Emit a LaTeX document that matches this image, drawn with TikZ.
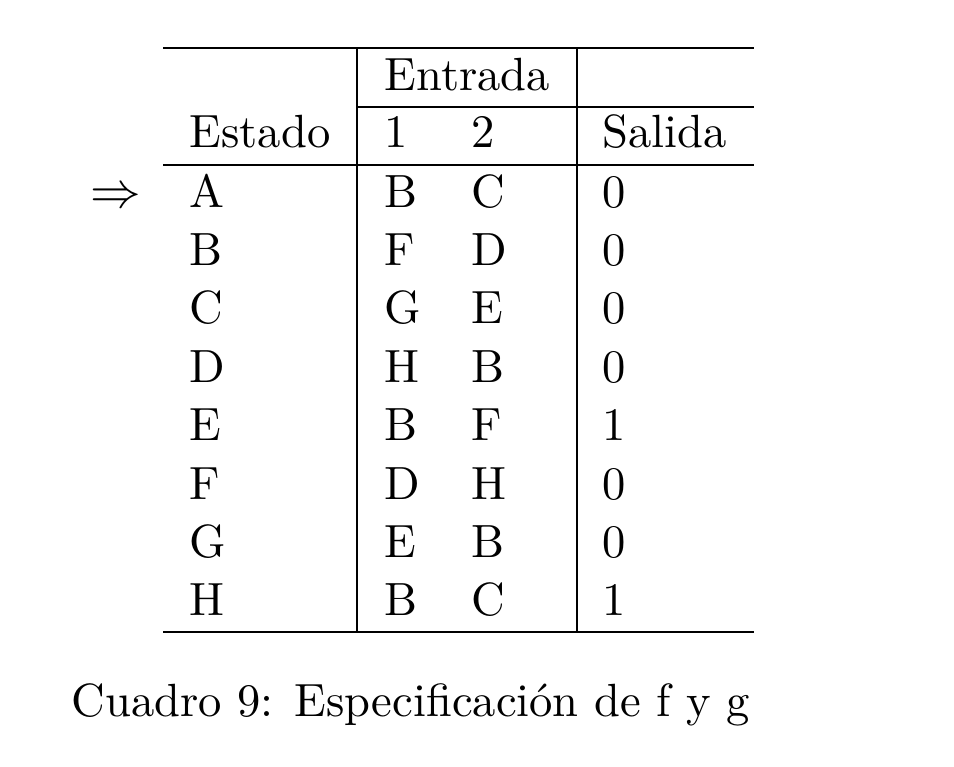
\documentclass[tikz,border=0pt]{standalone}
\usepackage{amsmath}
\usepackage{fontspec}
\setmainfont{lmroman10-regular.otf}
\usepackage{tikz}
\usetikzlibrary{calc}
\usetikzlibrary{positioning}

\begin{document}
\begin{tikzpicture} [x = 0.01cm, y = -0.01cm]
            % Set primary nodes
            \tikzset{
                cellNode/.style={
                        inner sep = 0pt,
                        anchor = base west,
                        font = \fontsize{13.25}{16}\selectfont
                    }
            }
            \tikzset{
                heavyRule/.style={
                        line width = 0.6pt
                    }
            }
            \tikzset{
                lightRule/.style={
                        line width = 0.4pt
                    }
            }
            \useasboundingbox (0,0) rectangle (954,766);
            % Placing corners
            \coordinate (topLeft) at (163,48);
            \coordinate (topRight) at (754,48);
            \coordinate (headLeft) at (163,165);
            \coordinate (headRight) at (754,165);
            \coordinate (bottomLeft) at (163,632);
            \coordinate (bottomRight) at (754,632);
            \coordinate (groupLeft) at (357,107);
            \coordinate (groupRight) at (754,107);
            \coordinate (splitOneTop) at (357,48);
            \coordinate (splitOneBottom) at (357,632);
            \coordinate (splitTwoTop) at (577,48);
            \coordinate (splitTwoBottom) at (577,632);
            % Placing header nodes
            \node[cellNode] (entrada) at (384,90) {Entrada};
            \node[cellNode] (estado) at (189,147) {Estado};
            \node[cellNode] (inOne) at (384,147) {1};
            \node[cellNode] (inTwo) at (471,147) {2};
            \node[cellNode] (salida) at (602,147) {Salida};
            % Placing state rows
            \node[cellNode] (start) at (90,207) {$\Rightarrow$};
            \node[cellNode] (stateA) at (189,207) {A};
            \node[cellNode] (nextA1) at (384,207) {B};
            \node[cellNode] (nextA2) at (471,207) {C};
            \node[cellNode] (outA) at (602,207) {0};
            \node[cellNode] (stateB) at (189,265.4) {B};
            \node[cellNode] (nextB1) at (384,265.4) {F};
            \node[cellNode] (nextB2) at (471,265.4) {D};
            \node[cellNode] (outB) at (602,265.4) {0};
            \node[cellNode] (stateC) at (189,323.8) {C};
            \node[cellNode] (nextC1) at (384,323.8) {G};
            \node[cellNode] (nextC2) at (471,323.8) {E};
            \node[cellNode] (outC) at (602,323.8) {0};
            \node[cellNode] (stateD) at (189,382.2) {D};
            \node[cellNode] (nextD1) at (384,382.2) {H};
            \node[cellNode] (nextD2) at (471,382.2) {B};
            \node[cellNode] (outD) at (602,382.2) {0};
            \node[cellNode] (stateE) at (189,440.6) {E};
            \node[cellNode] (nextE1) at (384,440.6) {B};
            \node[cellNode] (nextE2) at (471,440.6) {F};
            \node[cellNode] (outE) at (602,440.6) {1};
            \node[cellNode] (stateF) at (189,499) {F};
            \node[cellNode] (nextF1) at (384,499) {D};
            \node[cellNode] (nextF2) at (471,499) {H};
            \node[cellNode] (outF) at (602,499) {0};
            \node[cellNode] (stateG) at (189,557.4) {G};
            \node[cellNode] (nextG1) at (384,557.4) {E};
            \node[cellNode] (nextG2) at (471,557.4) {B};
            \node[cellNode] (outG) at (602,557.4) {0};
            \node[cellNode] (stateH) at (189,615.8) {H};
            \node[cellNode] (nextH1) at (384,615.8) {B};
            \node[cellNode] (nextH2) at (471,615.8) {C};
            \node[cellNode] (outH) at (602,615.8) {1};
            % Caption
            \node[cellNode] (caption) at (71,716) {Cuadro 9: Especificación de f y g};
            % Draw rules
            \draw[heavyRule] (topLeft) -- (topRight);
            \draw[lightRule] (groupLeft) -- (groupRight);
            \draw[heavyRule] (headLeft) -- (headRight);
            \draw[heavyRule] (bottomLeft) -- (bottomRight);
            \draw[lightRule] (splitOneTop) -- (splitOneBottom);
            \draw[lightRule] (splitTwoTop) -- (splitTwoBottom);

        \end{tikzpicture}
\end{document}
